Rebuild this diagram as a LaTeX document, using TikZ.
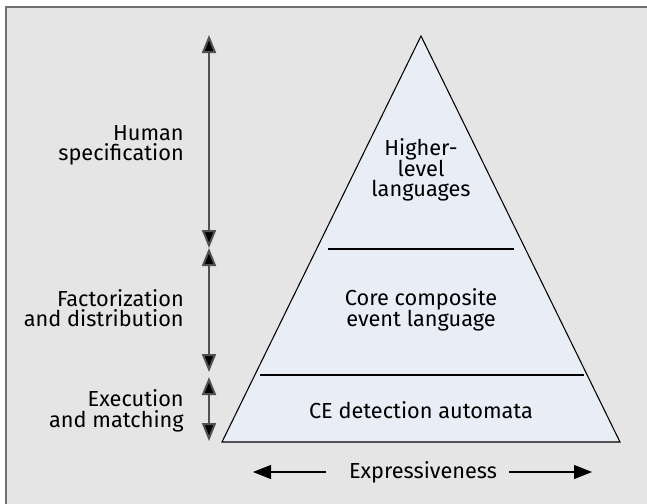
\documentclass[tikz,border=0pt]{standalone}
\usepackage{fontspec}
\setmainfont{Fira Sans}
\usetikzlibrary{arrows.meta}
\definecolor{bgframe}{HTML}{E5E5E5}
\definecolor{framecol}{HTML}{707070}
\definecolor{pyrfill}{HTML}{E9EDF5}
\definecolor{shaftcol}{HTML}{505050}
\newcommand{\labfont}{\fontsize{16.3}{15.4}\selectfont\lineskiplimit=-20pt\relax}
\tikzset{
  lbl/.style={font=\labfont, align=right, anchor=east, inner sep=0pt},
  plbl/.style={font=\labfont, align=center, inner sep=0pt},
  vdim/.style={draw=shaftcol, line width=1.5pt, {Triangle[length=13.5pt,width=10.5pt,fill=black]}-{Triangle[length=13.5pt,width=10.5pt,fill=black]}},
  hexp/.style={draw=black, line width=0.8pt, -{Triangle[length=13.5pt,width=10.5pt]}},
  pyr/.style={draw=black, line width=0.8pt, fill=pyrfill},
  sep/.style={draw=black, line width=0.8pt}
}
\begin{document}
\begin{tikzpicture}[x=0.75pt,y=-0.75pt]
\useasboundingbox (0,0) rectangle (647,504);
\fill[white] (0,0) rectangle (647,504);
\begin{scope}
\clip (0,0) rectangle (647,504);
\draw[fill=bgframe, draw=framecol, line width=1.5pt] (6,7) rectangle (670,530);
\end{scope}
% pyramid
\coordinate (apex) at (421,36);
\coordinate (bl) at (222,442);
\coordinate (br) at (620,442);
\path[pyr] (apex) -- (br) -- (bl) -- cycle;
\coordinate (s1l) at (328,249);
\coordinate (s1r) at (514,249);
\coordinate (s2l) at (260,375);
\coordinate (s2r) at (584,375);
\draw[sep] (s1l) -- (s1r);
\draw[sep] (s2l) -- (s2r);
\node[plbl] (hl) at (421,170) {Higher-\\level\\languages};
\node[plbl] (core) at (421,310) {Core composite\\event language};
\node[plbl, anchor=base] (ce) at (421,418) {CE detection automata};
% left arrows
\coordinate (a1t) at (209,35);
\coordinate (a1b) at (209,248);
\coordinate (a2t) at (209,248);
\coordinate (a2b) at (209,372);
\coordinate (a3t) at (209,377);
\coordinate (a3b) at (209,441);
\draw[vdim] (a1t) -- (a1b);
\draw[vdim] (a2t) -- (a2b);
\draw[vdim] (a3t) -- (a3b);
\node[lbl] (hs) at (184,145.5) {Human\\specification};
\node[lbl] (fd) at (184,308) {Factorization\\and distribution};
\node[lbl] (em) at (184,411) {Execution\\and matching};
% expressiveness
\node[plbl, anchor=base] (ex) at (423,478) {Expressiveness};
\coordinate (ell) at (253,472);
\coordinate (elr) at (326,472);
\coordinate (erl) at (509,472);
\coordinate (err) at (592,472);
\draw[hexp] (elr) -- (ell);
\draw[hexp] (erl) -- (err);
\end{tikzpicture}
\end{document}
